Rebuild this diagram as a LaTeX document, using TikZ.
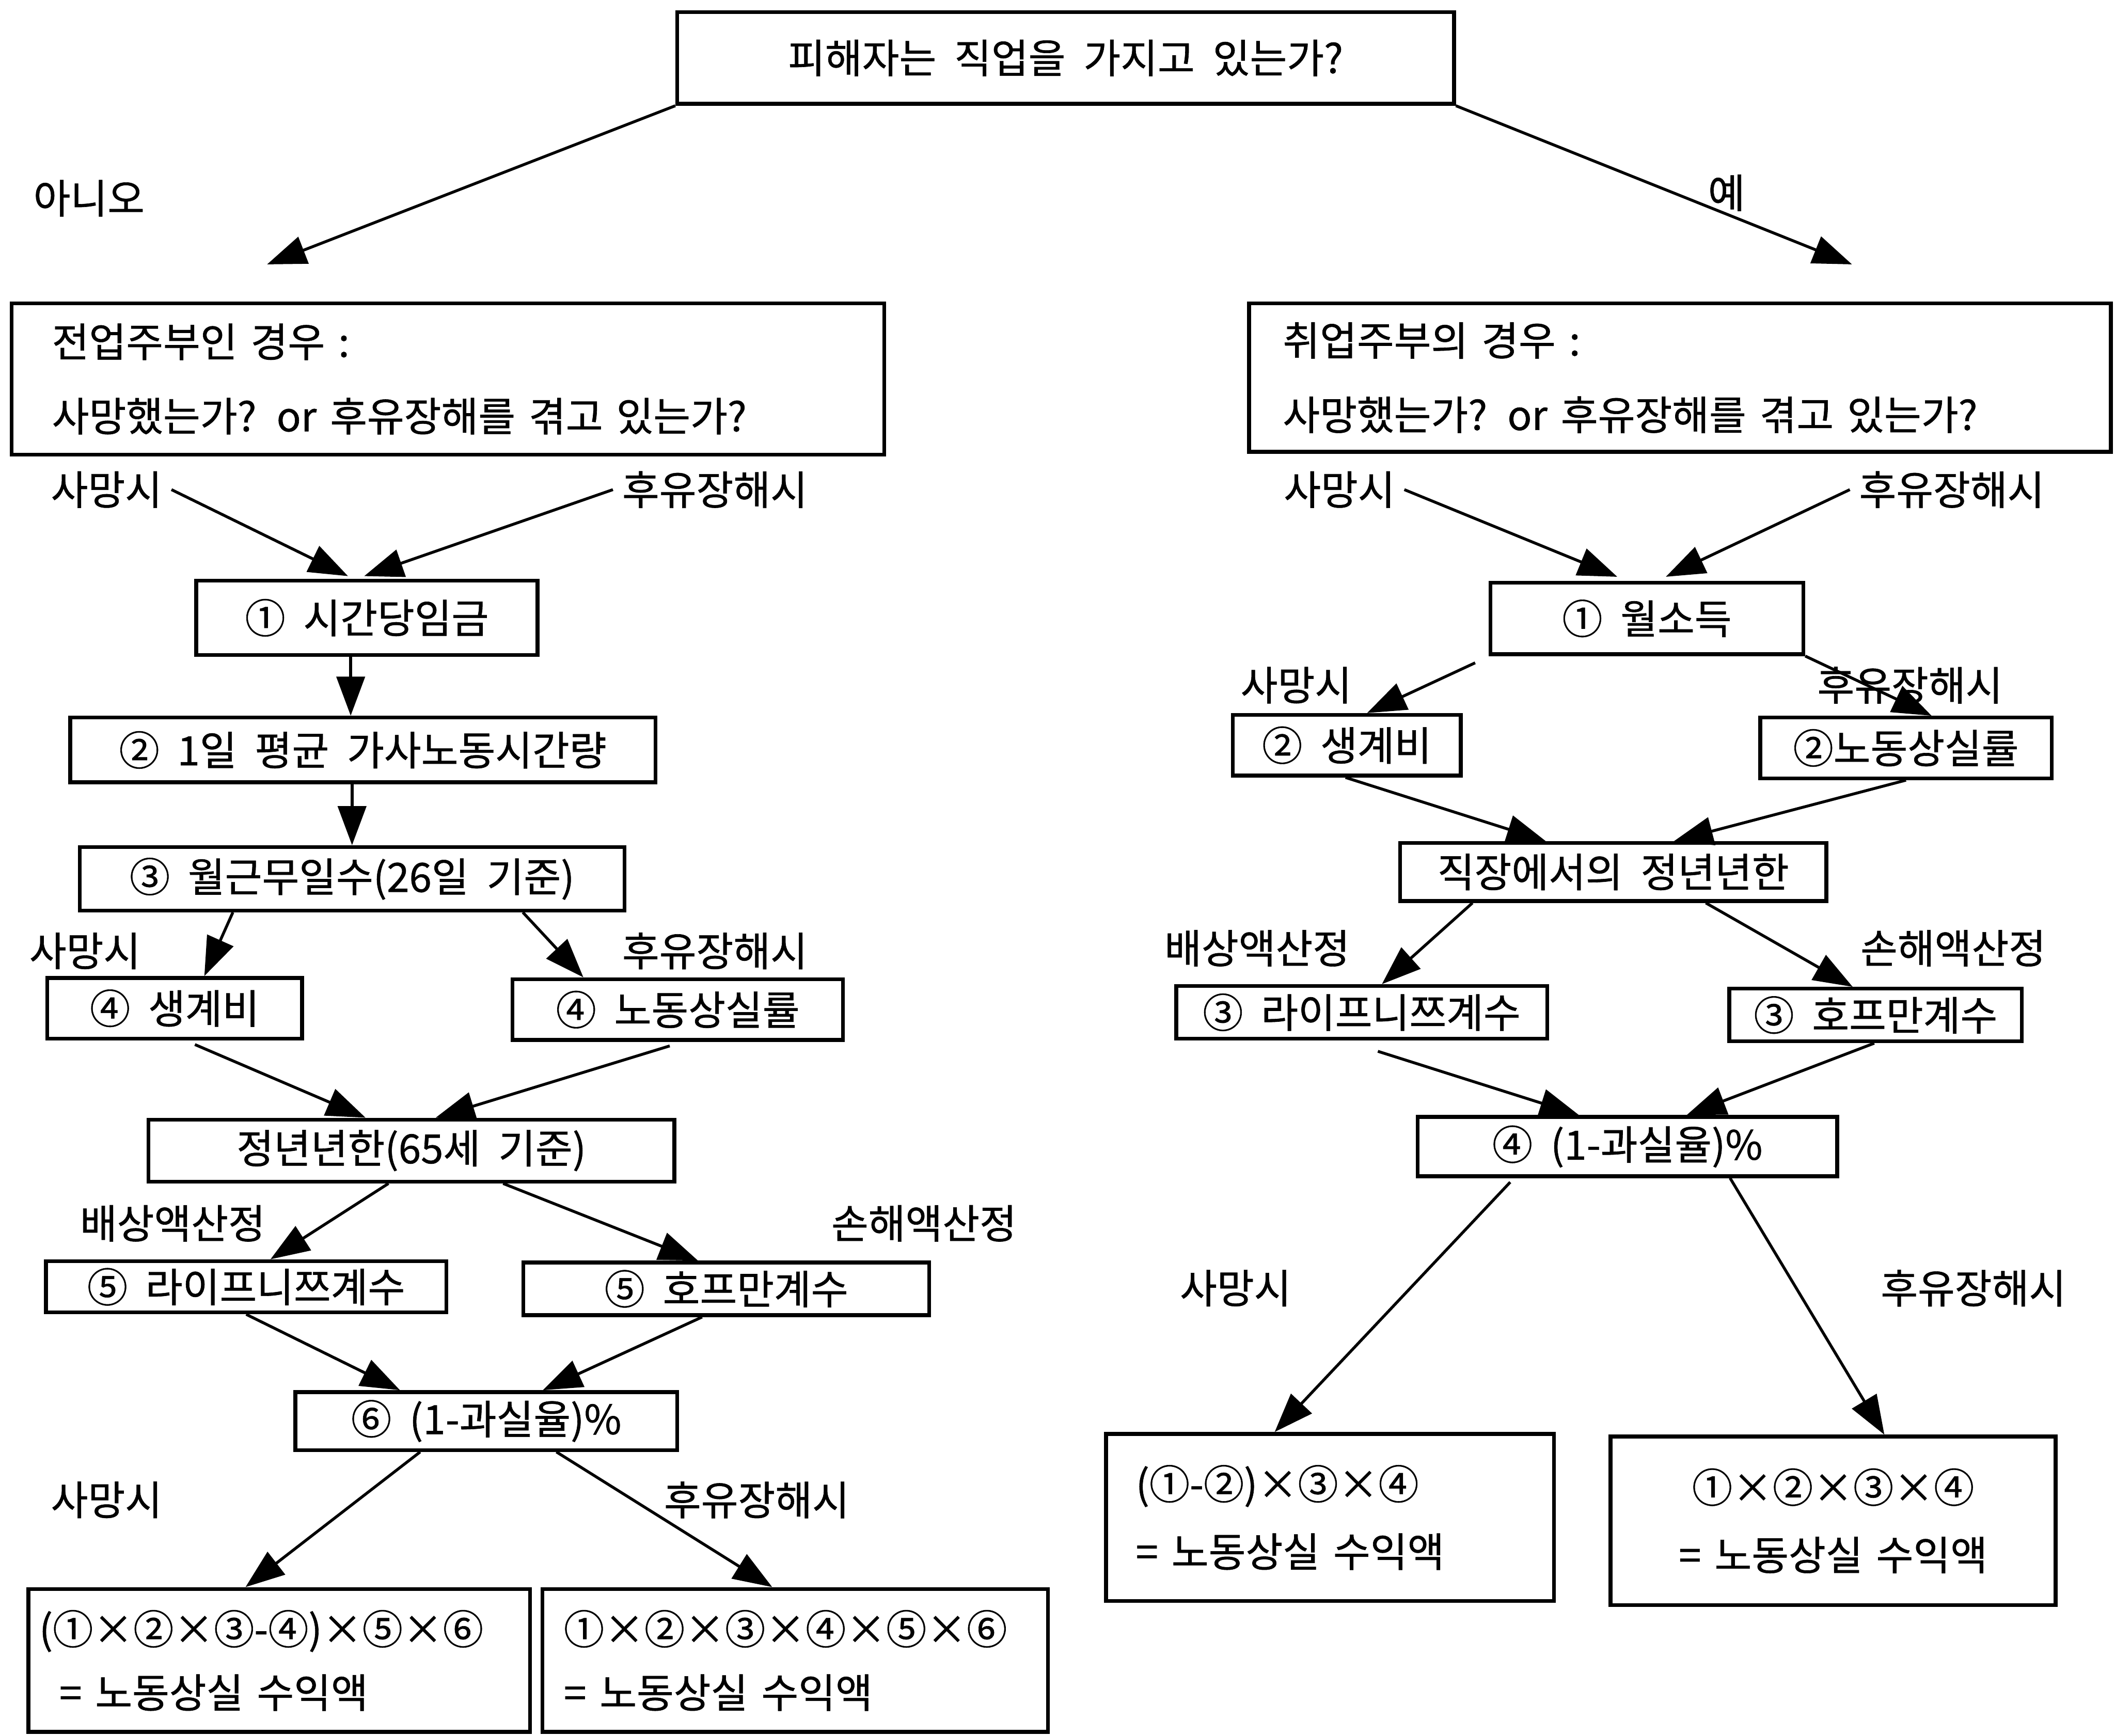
\documentclass[tikz,border=0pt]{standalone}
\usepackage{fontspec}
\newfontfamily\krfont[WordSpace=2,FakeBold=0.8]{Noto Sans CJK KR}
\usetikzlibrary{arrows.meta,calc}

\begin{document}
\begin{tikzpicture}[x=0.02cm,y=-0.02cm,line width=1.2pt,
  font=\krfont\fontsize{17}{20}\selectfont,
  box/.style={draw=black,line width=1.6pt,inner sep=0pt},
  >={Triangle[length=0.58cm,width=0.42cm]}]
  \useasboundingbox (0,0) rectangle (1568,1287);

  \node[box,minimum width=11.52cm,minimum height=1.36cm] (q) at (790,43) {피해자는 직업을 가지고 있는가?};
  \node (no) at (66,147) {아니오};
  \node (yes) at (1280,143) {예};
  \coordinate (noend) at (198,196);
  \coordinate (yesend) at (1373,196);

  \node[box,minimum height=2.24cm,text width=11.74cm,inner xsep=0.6cm,align=left] (L0) at (332,281) {전업주부인 경우 :\\[0.4cm]사망했는가? or 후유장해를 겪고 있는가?};
  \node[box,minimum height=2.2cm,text width=11.78cm,inner xsep=0.5cm,align=left] (R0) at (1245.5,280) {취업주부의 경우 :\\[0.4cm]사망했는가? or 후유장해를 겪고 있는가?};

  % left side
  \node (dL0) at (79,363) {사망시};
  \node (iL0) at (530,363) {후유장해시};
  \node[box,minimum width=5.06cm,minimum height=1.1cm] (L1) at (272,458) {① 시간당임금};
  \node[box,minimum width=8.68cm,minimum height=0.96cm] (L2) at (269,556) {② 1일 평균 가사노동시간량};
  \node[box,minimum width=8.08cm,minimum height=0.94cm] (L3) at (261,651.5) {③ 월근무일수(26일 기준)};
  \node (dL3) at (63,705) {사망시};
  \node (iL3) at (530,705) {후유장해시};
  \node[box,minimum width=3.78cm,minimum height=0.9cm] (L4a) at (129.5,747.5) {④ 생계비};
  \node[box,minimum width=4.9cm,minimum height=0.9cm] (L4b) at (502.5,748.5) {④ 노동상실률};
  \node[box,minimum width=7.8cm,minimum height=0.92cm] (L5) at (305,853) {정년년한(65세 기준)};
  \node (cL5) at (128,907) {배상액산정};
  \node (sL5) at (685,907) {손해액산정};
  \node[box,minimum width=5.94cm,minimum height=0.76cm] (L6a) at (182.5,954) {⑤ 라이프니쯔계수};
  \node[box,minimum width=6.02cm,minimum height=0.78cm] (L6b) at (538.5,955.5) {⑤ 호프만계수};
  \node[box,minimum width=5.66cm,minimum height=0.86cm] (L7) at (360.5,1053.5) {⑥ (1-과실율)\%};
  \node (dL7) at (79,1112) {사망시};
  \node (iL7) at (561,1112) {후유장해시};
  \node[box,minimum height=2.12cm,text width=7.12cm,inner xsep=0.16cm,align=left] (L8a) at (207,1231) {(①×②×③-④)×⑤×⑥\\[0.24cm]\hspace*{0.3cm}= 노동상실 수익액};
  \node[box,minimum height=2.12cm,text width=6.86cm,inner xsep=0.32cm,align=left] (L8b) at (589.5,1231) {①×②×③×④×⑤×⑥\\[0.24cm]= 노동상실 수익액};

  % right side
  \node (dR0) at (993,363) {사망시};
  \node (iR0) at (1447,363) {후유장해시};
  \node[box,minimum width=4.64cm,minimum height=1.06cm] (R1) at (1221,458.5) {① 월소득};
  \node (dR1) at (961,508) {사망시};
  \node (iR1) at (1416,508) {후유장해시};
  \node[box,minimum width=3.38cm,minimum height=0.9cm] (R2a) at (998.5,552.5) {② 생계비};
  \node[box,minimum width=4.32cm,minimum height=0.9cm] (R2b) at (1413,554.5) {②노동상실률};
  \node[box,minimum width=6.32cm,minimum height=0.86cm] (R3) at (1196,646.5) {직장에서의 정년년한};
  \node (cR3) at (932,703) {배상액산정};
  \node (sR3) at (1448,703) {손해액산정};
  \node[box,minimum width=5.5cm,minimum height=0.78cm] (R4a) at (1009.5,750.5) {③ 라이프니쯔계수};
  \node[box,minimum width=4.34cm,minimum height=0.78cm] (R4b) at (1390.5,752.5) {③ 호프만계수};
  \node[box,minimum width=6.22cm,minimum height=0.88cm] (R5) at (1206.5,850) {④ (1-과실율)\%};
  \node (dR5) at (916,955) {사망시};
  \node (iR5) at (1463,955) {후유장해시};
  \node[box,minimum height=2.48cm,text width=5.76cm,inner xsep=0.44cm,align=left] (R6a) at (986,1125) {(①-②)×③×④\\[0.3cm]= 노동상실 수익액};
  \node[box,minimum height=2.5cm,text width=5.8cm,inner xsep=0.4cm,align=center] (R6b) at (1359,1127.5) {①×②×③×④\\[0.3cm]= 노동상실 수익액};

  \draw[->] (q.south west) to (noend);
  \draw[->] (q.south east) to (yesend);

  \draw[->] (dL0.east) to ($(L1.north)+(-14,-2)$);
  \draw[->] (iL0.west) to ($(L1.north)+(-2,-2)$);
  \draw[->] ($(L1.south)+(-12,0)$) to ($(L2.north)+(-9,0)$);
  \draw[->] ($(L2.south)+(-8,0)$) to (L3.north);
  \draw[->] ($(L3.south west)+(115,0)$) to ($(L4a.north)+(22,0)$);
  \draw[->] ($(L3.south west)+(330,0)$) to ($(L4b.north)+(-70,0)$);
  \draw[->] ($(L4a.south)+(15,3)$) to ($(L5.north)+(-34,0)$);
  \draw[->] ($(L4b.south)+(-6,3)$) to ($(L5.north)+(18,0)$);
  \draw[->] ($(L5.south)+(-17,0)$) to ($(L6a.north)+(18,0)$);
  \draw[->] ($(L5.south)+(68,0)$) to ($(L6b.north)+(-21,0)$);
  \draw[->] (L6a.south) to ($(L7.north)+(-64,0)$);
  \draw[->] ($(L6b.south)+(-18,0)$) to ($(L7.north)+(42,0)$);
  \draw[->] ($(L7.south)+(-49,0)$) to ($(L8a.north)+(-25,0)$);
  \draw[->] ($(L7.south)+(52,0)$) to ($(L8b.north)+(-17,0)$);

  \draw[->] (dR0.east) to ($(R1.north)+(-22,-3)$);
  \draw[->] (iR0.west) to ($(R1.north)+(14,-3)$);
  \draw[->] ($(R1.south west)+(-10,5)$) to ($(R2a.north)+(15,0)$);
  \draw[->] (R1.south east) to ($(R2b.north)+(19,0)$);
  \draw[->] ($(R2a.south)+(-1,0)$) to ($(R3.north)+(-50,0)$);
  \draw[->] (R2b.south) to ($(R3.north)+(45,0)$);
  \draw[->] ($(R3.south west)+(55,0)$) to ($(R4a.north)+(15,0)$);
  \draw[->] ($(R3.south west)+(228,0)$) to ($(R4b.north)+(-17,0)$);
  \draw[->] ($(R4a.south)+(12,8)$) to ($(R5.north)+(-36,0)$);
  \draw[->] ($(R4b.south)+(-1,0)$) to ($(R5.north)+(44,0)$);
  \draw[->] ($(R5.south west)+(70,3)$) to ($(R6a.north)+(-41,0)$);
  \draw[->] ($(R5.south west)+(233,0)$) to ($(R6b.north)+(38,0)$);
\end{tikzpicture}
\end{document}
